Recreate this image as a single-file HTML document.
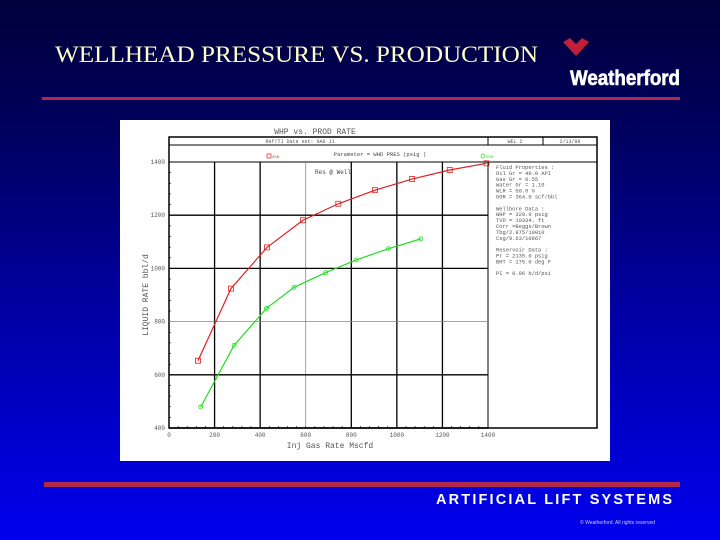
<!DOCTYPE html>
<html><head><meta charset="utf-8"><style>
html,body{margin:0;padding:0}
body{width:720px;height:540px;overflow:hidden;background:linear-gradient(180deg,#00003a 0%,#000060 25%,#0000a8 60%,#0000ee 100%);position:relative;font-family:"Liberation Sans",sans-serif}
</style></head><body>
<svg width="720" height="540" style="position:absolute;left:0;top:0">
<text x="55" y="62" font-family="Liberation Serif" font-size="23" fill="#ffffc8" textLength="483" lengthAdjust="spacingAndGlyphs">WELLHEAD PRESSURE VS. PRODUCTION</text>
<path d="M563,42 L570,38 L576,44 L582,38 L589,42 L576,56 Z" fill="#c0203a"/>
<text x="570" y="85" font-family="Liberation Sans" font-weight="bold" font-size="21" fill="#fff" stroke="#fff" stroke-width="0.6" textLength="110" lengthAdjust="spacingAndGlyphs">Weatherford</text>
<rect x="42" y="97" width="638" height="3" fill="#b0284a"/>
<rect x="44" y="482" width="636" height="5" fill="#b0284a"/>
<text x="436" y="504" font-family="Liberation Sans" font-weight="bold" font-size="14.5" fill="#fff" textLength="236" lengthAdjust="spacing">ARTIFICIAL LIFT SYSTEMS</text>
<text x="580" y="524" font-family="Liberation Sans" font-size="5" fill="#ccd">© Weatherford. All rights reserved</text>
</svg>
<svg id="chart" width="720" height="540" style="position:absolute;left:0;top:0" font-family="Liberation Mono"></svg>
<script>
const xTicks=[0,200,400,600,800,1000,1200,1400];
const yTicks=[400,600,800,1000,1200,1400];
const redX=[127,272,430,588,743,904,1067,1232,1393];
const redY=[653,924,1079,1181,1243,1294,1336,1370,1395];
const greenX=[139,286,428,549,687,822,963,1105];
const greenY=[479,711,850,929,984,1032,1074,1111];
const infoLines=["Fluid Properties :","Oil Gr =   40.0 API","Gas Gr =   0.55","Water Gr =   1.10","WLR =   50.0 %","GOR =  364.0 scf/bbl","","Wellbore Data :","WHP =  320.0 psig","TVD = 10334. ft","Corr =Beggs/Brown","Tbg/2.875/10810","Csg/9.63/10867","","Reservoir Data :","Pr = 2135.0 psig","BHT =  175.0 deg F","","PI =   0.06 b/d/psi"];
const NS="http://www.w3.org/2000/svg";
const svg=document.getElementById('chart');
const X0=169,X1=488,Y0=428,Y1=162;
const sx=v=>X0+(v-0)/(1400-0)*(X1-X0);
const sy=v=>Y0-(v-400)/(1400-400)*(Y0-Y1);
function mk(tag,a,p){const e=document.createElementNS(NS,tag);for(const k in a)e.setAttribute(k,a[k]);(p||svg).appendChild(e);return e;}
let e;
e=mk('rect',{x:120,y:120,width:490,height:341,fill:'#fff'});


e=mk('rect',{x:169,y:137,width:428,height:291,fill:'none',stroke:'#000','stroke-width':1.5});


mk('line',{x1:169,y1:145,x2:597,y2:145,stroke:'#000'});
mk('line',{x1:169,y1:162,x2:597,y2:162,stroke:'#000'});
mk('line',{x1:488,y1:137,x2:488,y2:145,stroke:'#000'});
mk('line',{x1:543,y1:137,x2:543,y2:145,stroke:'#000'});
mk('line',{x1:488,y1:162,x2:488,y2:428,stroke:'#000'});
e=mk('text',{x:315,y:134,'font-size':8,fill:'#555','text-anchor':'middle'});e.textContent='WHP vs. PROD RATE';


e=mk('text',{x:300,y:143,'font-size':5,fill:'#555','text-anchor':'middle'});e.textContent='Ref/TJ Data set: 9A0 J1';
e=mk('text',{x:515,y:143,'font-size':5,fill:'#555','text-anchor':'middle'});e.textContent='WEL 2';
e=mk('text',{x:570,y:143,'font-size':5,fill:'#555','text-anchor':'middle'});e.textContent='2/13/98';
e=mk('text',{x:380,y:156,'font-size':5.5,fill:'#444','text-anchor':'middle'});e.textContent='Parameter = WHD PRES (psig    )';


e=mk('text',{x:315,y:174,'font-size':6,fill:'#444'});e.textContent='Res @ Well';
xTicks.forEach((t,i)=>{
  if(i>0&&i<xTicks.length-1){const g=(t===600);e=mk('line',{x1:sx(t),y1:Y1,x2:sx(t),y2:Y0,stroke:g?'#888':'#000','stroke-width':g?0.8:1.3});
  
  }
  e=mk('text',{x:sx(t),y:437,'font-size':6,fill:'#555','text-anchor':'middle'});e.textContent=t;
  
  
});
for(let v=0;v<=1400;v+=40){mk('line',{x1:sx(v),y1:Y0,x2:sx(v),y2:Y0-2,stroke:'#000','stroke-width':0.6});}
for(let v=400;v<=1400;v+=40){mk('line',{x1:X0,y1:sy(v),x2:X0+2,y2:sy(v),stroke:'#000','stroke-width':0.6});}
yTicks.forEach((t,i)=>{
  if(i>0&&i<yTicks.length-1){const g=(t===800);e=mk('line',{x1:X0,y1:sy(t),x2:X1,y2:sy(t),stroke:g?'#888':'#000','stroke-width':g?0.8:1.3});
  
  }
  e=mk('text',{x:165,y:sy(t)+2,'font-size':6,fill:'#555','text-anchor':'end'});e.textContent=t;
  
  
});
mk('line',{x1:X0,y1:Y0,x2:X1,y2:Y0,stroke:'#000','stroke-width':1.5});
e=mk('text',{x:330,y:448,'font-size':8,fill:'#555','text-anchor':'middle'});e.textContent='Inj Gas Rate Mscfd';


e=mk('text',{x:0,y:0,'font-size':8,fill:'#555','text-anchor':'middle',transform:'translate(148,295) rotate(-90)'});e.textContent='LIQUID RATE bbl/d';


function series(xs,ys,col,name,sq){
  const g=mk('g',{});
  
  
  mk('polyline',{points:xs.map((x,i)=>sx(x)+','+sy(ys[i])).join(' '),fill:'none',stroke:col,'stroke-width':1.2},g);
  xs.forEach((x,i)=>{
    let m;
    if(sq)m=mk('rect',{x:sx(x)-2.5,y:sy(ys[i])-2.5,width:5,height:5,fill:'none',stroke:col,'stroke-width':0.8},g);
    else m=mk('circle',{cx:sx(x),cy:sy(ys[i]),r:2,fill:'none',stroke:col,'stroke-width':0.8},g);
    
    
  });
}
series(redX,redY,'#e02020','series-whp-250',true);
series(greenX,greenY,'#20dd20','series-whp-500',false);
e=mk('rect',{x:267,y:154,width:4,height:4,fill:'none',stroke:'#e02020','stroke-width':0.7});


e=mk('text',{x:272,y:158,'font-size':4,fill:'#e02020'});e.textContent='250';
e=mk('circle',{cx:483,cy:156,r:2,fill:'none',stroke:'#20dd20','stroke-width':0.7});


e=mk('text',{x:486,y:158,'font-size':4,fill:'#20dd20'});e.textContent='500';
infoLines.forEach((l,i)=>{
  e=mk('text',{x:496,y:169+i*5.9,'font-size':5.4,fill:'#555'});e.textContent=l;
  
  
});
</script>
</body></html>
